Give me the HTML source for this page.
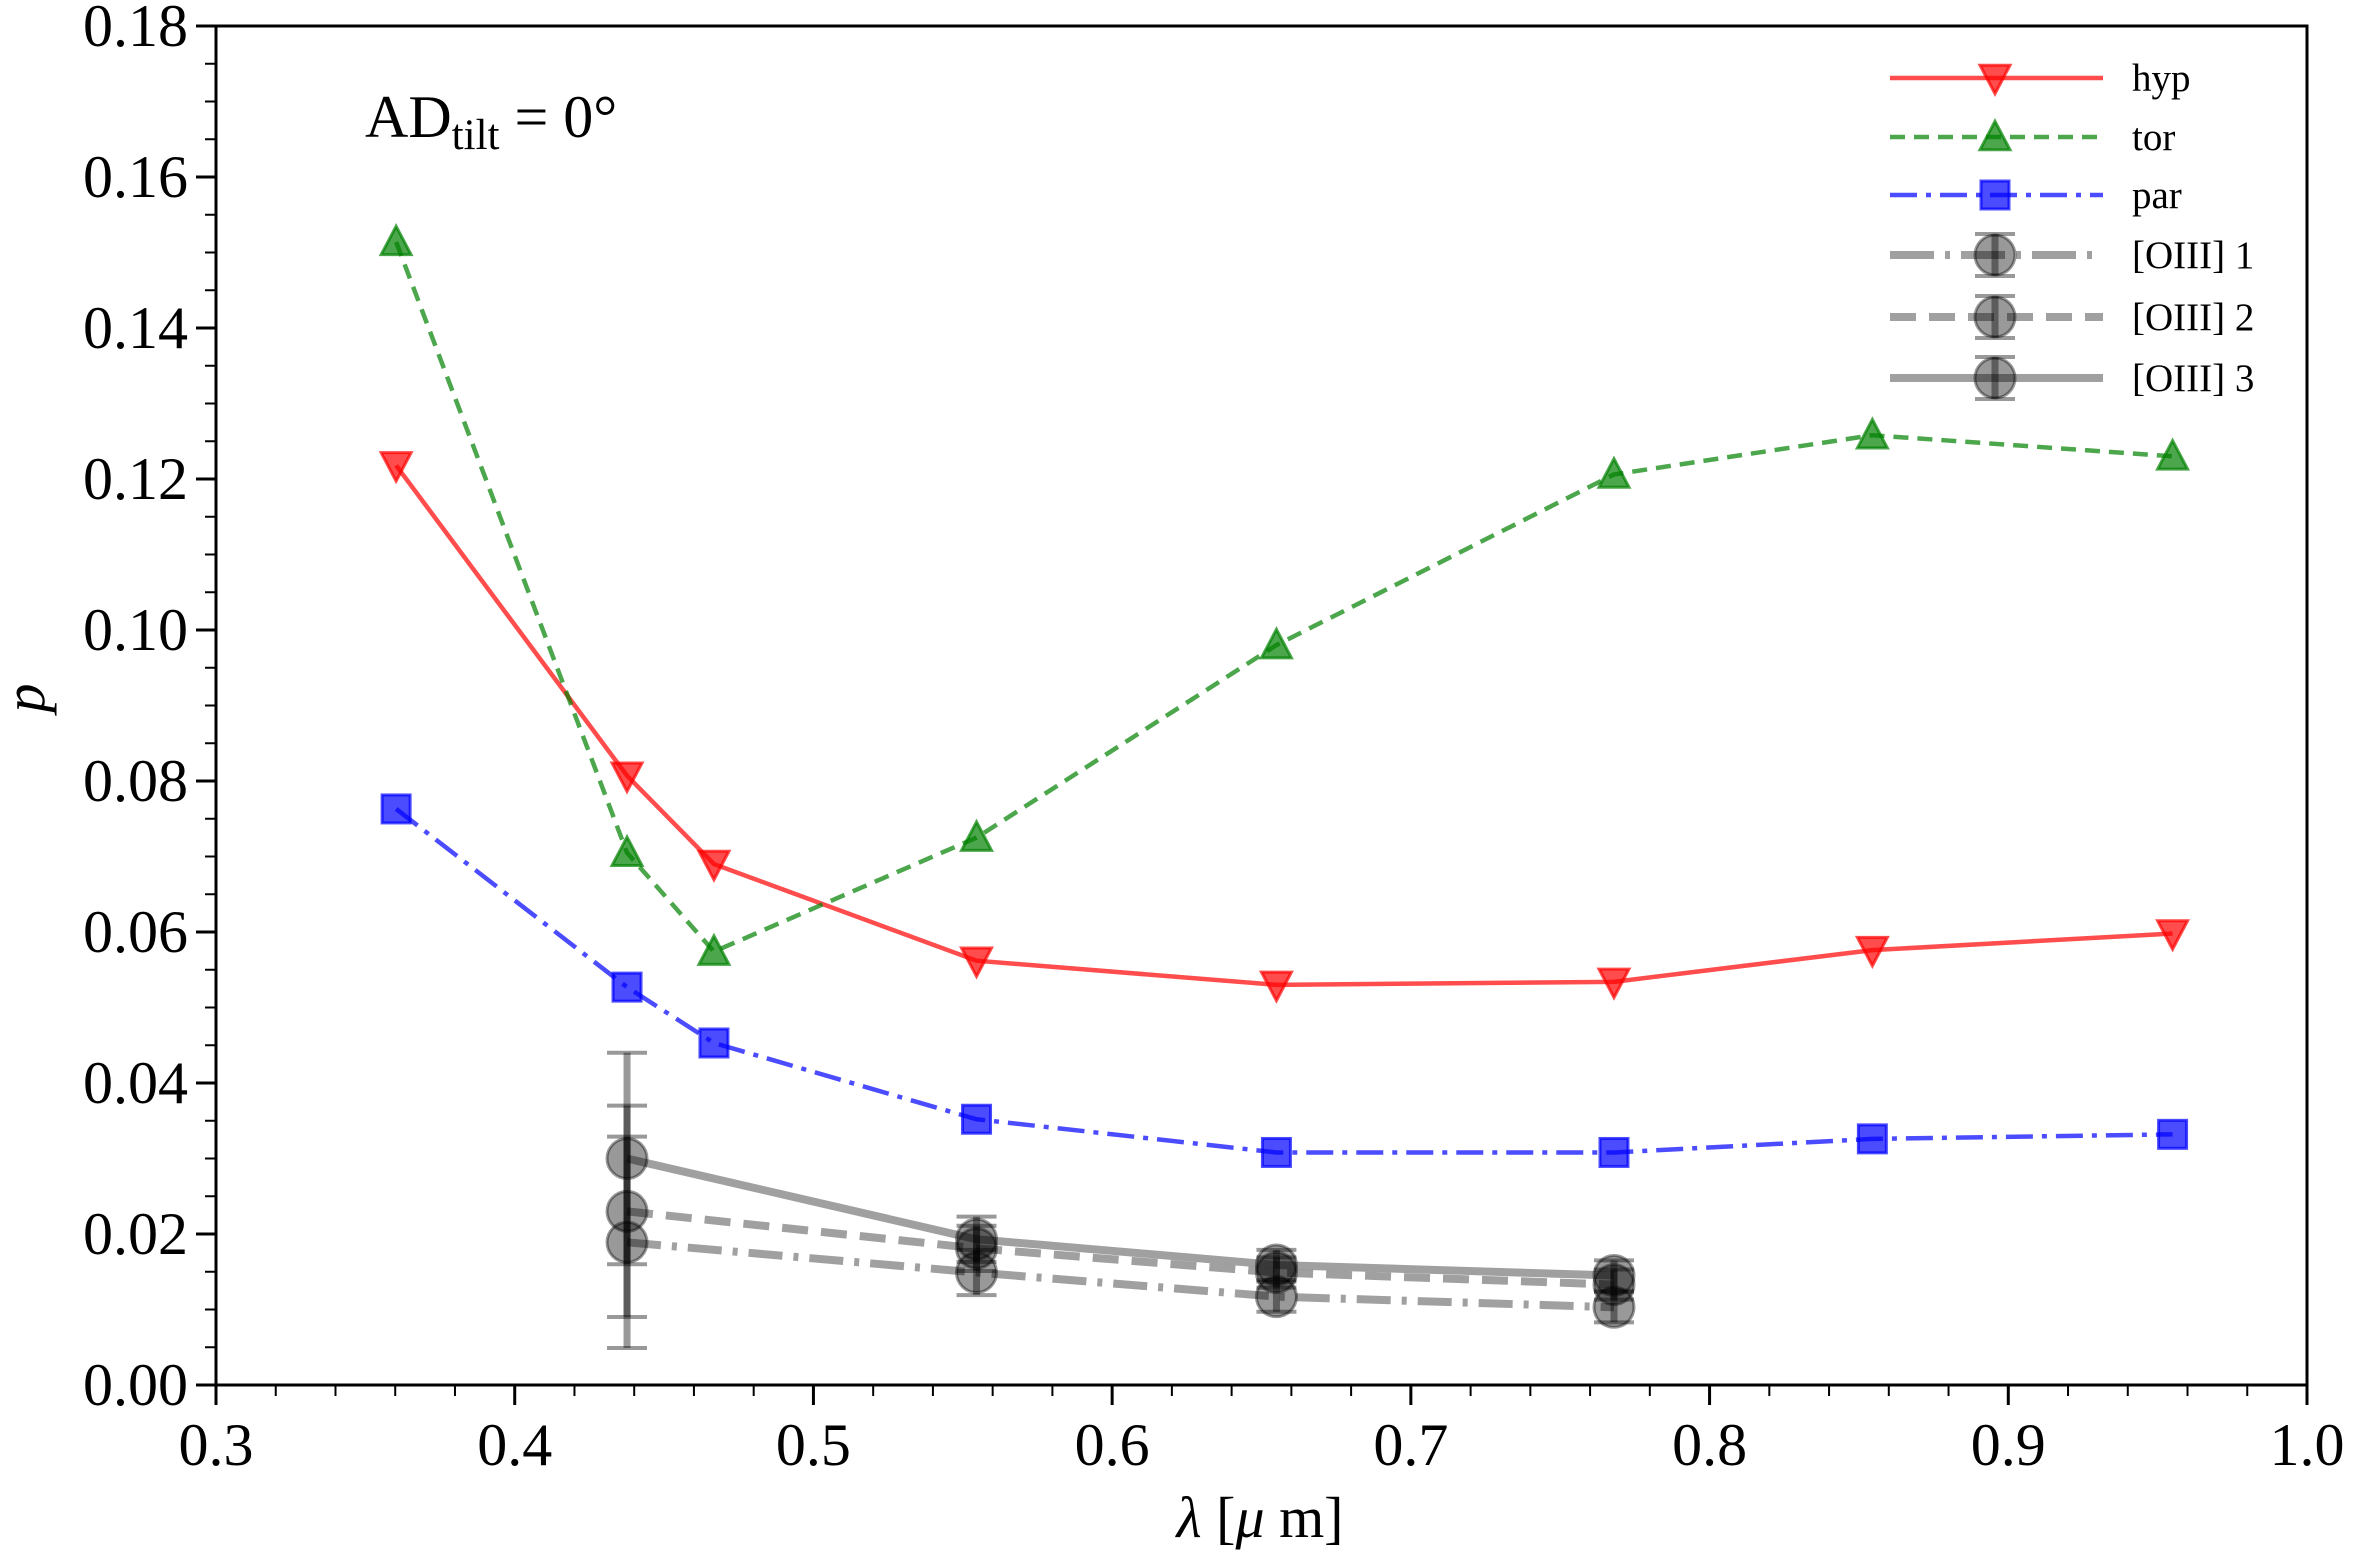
<!DOCTYPE html>
<html><head><meta charset="utf-8"><style>
body{margin:0;background:#fff}
svg{display:block;font-family:"Liberation Serif",serif}
</style></head><body>
<svg id="chart" width="2353" height="1551" viewBox="0 0 2353 1551"></svg>
<script>
const lamHyp=[0.3603,0.4376,0.4667,0.5546,0.655,0.768,0.8545,0.955];
const hypVals=[0.1218,0.0807,0.0690,0.0562,0.0530,0.0534,0.0576,0.0598];
const torVals=[0.1514,0.0705,0.0574,0.0725,0.0980,0.1206,0.1258,0.1230];
const parVals=[0.0763,0.0527,0.0453,0.0352,0.0308,0.0308,0.0326,0.0332];
const lamO=[0.4376,0.5546,0.655,0.768];
const o1Vals=[0.0189,0.0149,0.0117,0.0103];
const o2Vals=[0.0230,0.0181,0.0149,0.0133];
const o3Vals=[0.0300,0.0193,0.0159,0.0145];
const o1Err=[0.014,0.003,0.002,0.002];
const o2Err=[0.014,0.003,0.002,0.002];
const o3Err=[0.014,0.003,0.002,0.002];
const xTicks=["0.3","0.4","0.5","0.6","0.7","0.8","0.9","1.0"];
const yTicks=["0.00","0.02","0.04","0.06","0.08","0.10","0.12","0.14","0.16","0.18"];

const L=216,R=2307,T=26,B=1385;
const X=v=>L+(v-0.3)/0.7*(R-L);
const Y=v=>B-v/0.18*(B-T);
const svg=document.getElementById('chart');
const NS='http://www.w3.org/2000/svg';
function mk(tag,attrs,parent){const e=document.createElementNS(NS,tag);for(const k in attrs)e.setAttribute(k,attrs[k]);(parent||svg).appendChild(e);return e;}

for(let i=0;i<=35;i++){const v=0.3+i*0.02;const x=X(v);const major=i%5===0;
 const t=mk('line',{x1:x,x2:x,y1:B,y2:B+(major?20:11),stroke:'#000','stroke-width':major?3:2});
 
 }
xTicks.forEach(s=>{const t=mk('text',{x:X(parseFloat(s)),y:B+80,'font-size':60,'text-anchor':'middle'});t.textContent=s;
 
 });
for(let i=0;i<=36;i++){const v=i*0.005;const y=Y(v);const major=i%4===0;
 const t=mk('line',{x1:L,x2:L-(major?20:11),y1:y,y2:y,stroke:'#000','stroke-width':major?3:2});
 
 }
yTicks.forEach(s=>{const t=mk('text',{x:L-28,y:Y(parseFloat(s))+20,'font-size':60,'text-anchor':'end'});t.textContent=s;
 
 });

function series(xs,ys,color,dash,width,name,op){
 const p=mk('polyline',{points:xs.map((x,i)=>X(x)+','+Y(ys[i])).join(' '),fill:'none',stroke:color,'stroke-width':width,'stroke-dasharray':dash,'stroke-opacity':op||0.7});
 
 
}
function tri(cx,cy,down,fill,stroke,name){
 const s=15;const pts=down?[[cx-s,cy-s*0.85],[cx+s,cy-s*0.85],[cx,cy+s*1.05]]:[[cx-s,cy+s*0.85],[cx+s,cy+s*0.85],[cx,cy-s*1.05]];
 const m=mk('polygon',{points:pts.map(p=>p.join(',')).join(' '),fill:fill,'fill-opacity':0.7,stroke:stroke,'stroke-width':3,'stroke-opacity':0.7});
 
 
}
function sq(cx,cy,name){
 const m=mk('rect',{x:cx-14,y:cy-14,width:28,height:28,fill:'#0000ff','fill-opacity':0.7,stroke:'#0000ff','stroke-width':3,'stroke-opacity':0.7});
 
 
}
function circ(cx,cy,lo,hi,name){
 const g=mk('g',{});
 
 
 mk('line',{x1:cx,x2:cx,y1:lo,y2:hi,stroke:'#000','stroke-width':7,'stroke-opacity':0.4},g);
 mk('line',{x1:cx-20,x2:cx+20,y1:lo,y2:lo,stroke:'#000','stroke-width':4,'stroke-opacity':0.4},g);
 mk('line',{x1:cx-20,x2:cx+20,y1:hi,y2:hi,stroke:'#000','stroke-width':4,'stroke-opacity':0.4},g);
 mk('circle',{cx:cx,cy:cy,r:20,fill:'#000','fill-opacity':0.4,stroke:'#000','stroke-width':3,'stroke-opacity':0.4},g);
}

series(lamO,o1Vals,'#888','34 11 5 11',8,'oiii-1',0.8);
series(lamO,o2Vals,'#888','26 13',8,'oiii-2',0.8);
series(lamO,o3Vals,'#888','',8,'oiii-3',0.8);
lamO.forEach((x,i)=>{circ(X(x),Y(o1Vals[i]),Y(o1Vals[i]-o1Err[i]),Y(o1Vals[i]+o1Err[i]),'oiii-1-point');});
lamO.forEach((x,i)=>{circ(X(x),Y(o2Vals[i]),Y(o2Vals[i]-o2Err[i]),Y(o2Vals[i]+o2Err[i]),'oiii-2-point');});
lamO.forEach((x,i)=>{circ(X(x),Y(o3Vals[i]),Y(o3Vals[i]-o3Err[i]),Y(o3Vals[i]+o3Err[i]),'oiii-3-point');});

series(lamHyp,hypVals,'#ff0000','',4.5,'hyp');
series(lamHyp,torVals,'#008000','15 9',4.5,'tor');
series(lamHyp,parVals,'#0000ff','27 9 5 9',4.5,'par');
lamHyp.forEach((x,i)=>tri(X(x),Y(hypVals[i]),true,'#ff0000','#ff0000','hyp-point'));
lamHyp.forEach((x,i)=>tri(X(x),Y(torVals[i]),false,'#008000','#008000','tor-point'));
lamHyp.forEach((x,i)=>sq(X(x),Y(parVals[i]),'par-point'));

const fr=mk('rect',{x:L,y:T,width:R-L,height:B-T,fill:'none',stroke:'#000','stroke-width':3});



const legX1=1890,legX2=2103,legM=1995,legT=2132;
const rows=[78,137,195,255,317,378];
const labels=['hyp','tor','par','[OIII] 1','[OIII] 2','[OIII] 3'];
const lg=mk('g',{});


const lineDefs=[['#ff0000','',4.5],['#008000','15 9',4.5],['#0000ff','27 9 5 9',4.5],['#888','44 11 5 11',8],['#888','26 13',8],['#888','',8]];
rows.forEach((y,i)=>{
 const e=mk('g',{},lg);
 
 
 mk('line',{x1:legX1,x2:legX2,y1:y,y2:y,stroke:lineDefs[i][0],'stroke-width':lineDefs[i][2],'stroke-dasharray':lineDefs[i][1],'stroke-opacity':i<3?0.7:0.8},e);
 const t=mk('text',{x:legT,y:y+13,'font-size':39},e);t.textContent=labels[i];
});
tri(legM,rows[0],true,'#ff0000','#ff0000','legend-hyp-marker');
tri(legM,rows[1],false,'#008000','#008000','legend-tor-marker');
sq(legM,rows[2],'legend-par-marker');
[3,4,5].forEach(i=>circ(legM,rows[i],rows[i]+21,rows[i]-21,'legend-oiii-marker'));

const an=mk('text',{x:365,y:137,'font-size':60});
an.innerHTML='AD<tspan font-size="43" dy="12">tilt</tspan><tspan dy="-12"> = 0°</tspan>';



const xl=mk('text',{x:1260,y:1537,'font-size':58,'text-anchor':'middle'});
xl.innerHTML='<tspan font-style="italic">λ</tspan> [<tspan font-style="italic">μ</tspan> m]';


const yl=mk('text',{x:44,y:698,'font-size':58,'font-style':'italic','text-anchor':'middle',transform:'rotate(-90 44 698)'});
yl.textContent='p';


</script>
</body></html>
